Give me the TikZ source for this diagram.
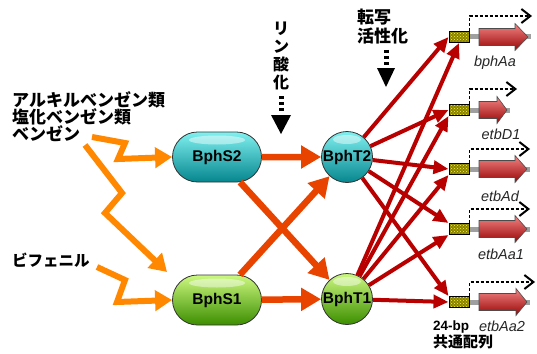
\documentclass[tikz,border=0pt]{standalone}
\usepackage{fontspec}
\setmainfont{Liberation Sans}
\newfontfamily\jp{Noto Sans CJK JP}
\usetikzlibrary{arrows.meta,shapes.misc,patterns,calc}
\definecolor{zzorange}{HTML}{FF8800}
\definecolor{storange}{HTML}{E84400}
\definecolor{dred}{HTML}{B80000}
\definecolor{tealtop}{HTML}{80F0F0}
\definecolor{tealmid}{HTML}{10CCD2}
\definecolor{tealbot}{HTML}{05868E}
\definecolor{grtop}{HTML}{CCF880}
\definecolor{grmid}{HTML}{7CD60A}
\definecolor{grbot}{HTML}{3C8E00}
\definecolor{boxolive}{HTML}{8A8200}
\definecolor{genetop}{HTML}{F28484}
\definecolor{genemid}{HTML}{E02424}
\definecolor{genebot}{HTML}{980404}
\begin{document}
\begin{tikzpicture}[x=1pt,y=-1pt,
  jtext/.style={font=\jp\bfseries\fontsize{17}{17}\selectfont, align=left, inner sep=0, anchor=north west},
  snode/.style={rounded rectangle, minimum width=89pt, minimum height=50pt, inner sep=0,
    draw=black!80, line width=0.8pt, font=\bfseries\fontsize{15.5}{16}\selectfont},
  tnode/.style={circle, minimum size=51pt, inner sep=0,
    draw=black!80, line width=0.8pt, font=\bfseries\fontsize{15.5}{16}\selectfont},
  tealfill/.style={top color=tealtop, middle color=tealmid, bottom color=tealbot},
  greenfill/.style={top color=grtop, middle color=grmid, bottom color=grbot},
  shine/.style={path picture={\fill[white,opacity=.45] ([yshift=-8pt]path picture bounding box.north) ellipse [x radius=#1, y radius=4.5pt];}},
  zz/.style={draw=zzorange, line width=6pt, -{Triangle[length=17pt,width=20pt]}},
  st/.style={draw=storange, line width=6.5pt, -{Triangle[length=20pt,width=22pt]}},
  rd/.style={draw=dred, line width=4pt, -{Triangle[length=15pt,width=13pt]}},
  promoter/.style={draw=black, line width=1pt, minimum width=20pt, minimum height=11pt, inner sep=0,
    preaction={fill=boxolive}, pattern=crosshatch dots, pattern color=yellow},
  dsh/.style={draw=black, line width=1.5pt, dash pattern=on 3pt off 2pt,
    -{Straight Barb[length=9pt,width=14pt,line width=2pt]}},
  genename/.style={font=\itshape\fontsize{14.5}{15}\selectfont, text=black!85, inner sep=0},
  genebody/.style={draw=black!70, line width=0.6pt, top color=genetop, middle color=genemid, bottom color=genebot},
  tri/.style={fill=black},
  dots/.style={draw=black, line width=5pt, dash pattern=on 3pt off 3pt}
]
\useasboundingbox (0,0) rectangle (537,353);

% texts
\node[jtext] (alk) at (12,91) {アルキルベンゼン類\\塩化ベンゼン類\\ベンゼン};
\node[jtext, font=\jp\bfseries\fontsize{15.5}{16}\selectfont] (bip) at (12,253) {ビフェニル};
\node[jtext, font=\jp\bfseries\fontsize{16}{18}\selectfont, align=center, anchor=north] (rin) at (281,22) {リ\\ン\\酸\\化};
\node[jtext, font=\jp\bfseries\fontsize{17}{18.5}\selectfont] (ten) at (357,9) {転写\\活性化};
\node[jtext, font=\jp\bfseries\fontsize{15}{15.5}\selectfont] (cons) at (433,321) {{\bfseries\rmfamily\fontsize{13.5}{15.5}\selectfont 24-bp}\\共通配列};

% arrows for phosphorylation / activation
\draw[dots] (281,96) -- (281,112);
\fill[tri] (271,115) -- (291,115) -- (281,134) -- cycle;
\draw[dots] (386,50) -- (386,65);
\fill[tri] (377,68) -- (395,68) -- (386,87) -- cycle;

% main nodes
\node[snode, tealfill, shine=28pt] (s2) at (217,157) {BphS2};
\node[snode, greenfill, shine=28pt] (s1) at (217,300) {BphS1};
\node[tnode, tealfill, shine=14pt] (t2) at (347,157) {BphT2};
\node[tnode, greenfill, shine=14pt] (t1) at (347,299) {BphT1};

% promoter boxes
\foreach \i/\y in {1/37,2/110,3/169,4/229,5/302}{
  \node[promoter] (b\i) at (459,\y) {};
}

% genes
\foreach \i/\y/\be/\tip/\dt/\dx/\name/\lx/\ly in {
  1/37/515/528/16/532/bphAa/495/63,
  2/110/497/507/89/517/etbD1/501/134,
  3/169/515/527/149/530/etbAd/500/196,
  4/229/515/527/209/530/etbAa1/501/254,
  5/302/516/527/282/535/etbAa2/502/326}{
  \coordinate (g\i end) at (\tip+3,\y);
  \draw[line width=5pt, draw=gray!75] (b\i.east) -- (g\i end);
  \path[genebody] (479,\y-8.5) -- (\be,\y-8.5) -- (\be,\y-13.5) -- (\tip,\y) -- (\be,\y+13.5) -- (\be,\y+8.5) -- (479,\y+8.5) -- cycle;
  \coordinate (d\i) at (\dx,\dt);
  \draw[dsh] (b\i.north east) |- (d\i);
  \node[genename] (n\i) at (\lx,\ly) {\name};
}

% zigzag inputs
\coordinate (z1) at (92,137);
\coordinate (z2) at (85,145);
\coordinate (z3) at (97,267);
\coordinate (s1in) at (167,272);
\draw[zz] (z1) -- (125,143) -- (118,159) -- (s2.west);
\draw[zz] (z2) -- (122,193) -- (105,213) -- (s1in);
\draw[zz] (z3) -- (125,280) -- (117,302) -- (s1.west);

% sensor to regulator
\draw[st] (s2) -- (t2);
\draw[st] (s1) -- (t1);
\draw[st] (s2) -- (t1);
\draw[st] (s1) -- (t2);

% regulator to promoters
\draw[rd] (t2) -- (b1.west);
\draw[rd] (t2) -- (b2.west);
\draw[rd] (t2) -- (b3.west);
\draw[rd] (t2) -- (b4.north west);
\draw[rd] (t2) -- (b5.north west);
\draw[rd] (t1) -- (b1.south);
\draw[rd] (t1) -- (b2.south west);
\draw[rd] (t1) -- (b3.south west);
\draw[rd] (t1) -- (b4.south west);
\draw[rd] (t1) -- (b5.west);
\end{tikzpicture}
\end{document}
